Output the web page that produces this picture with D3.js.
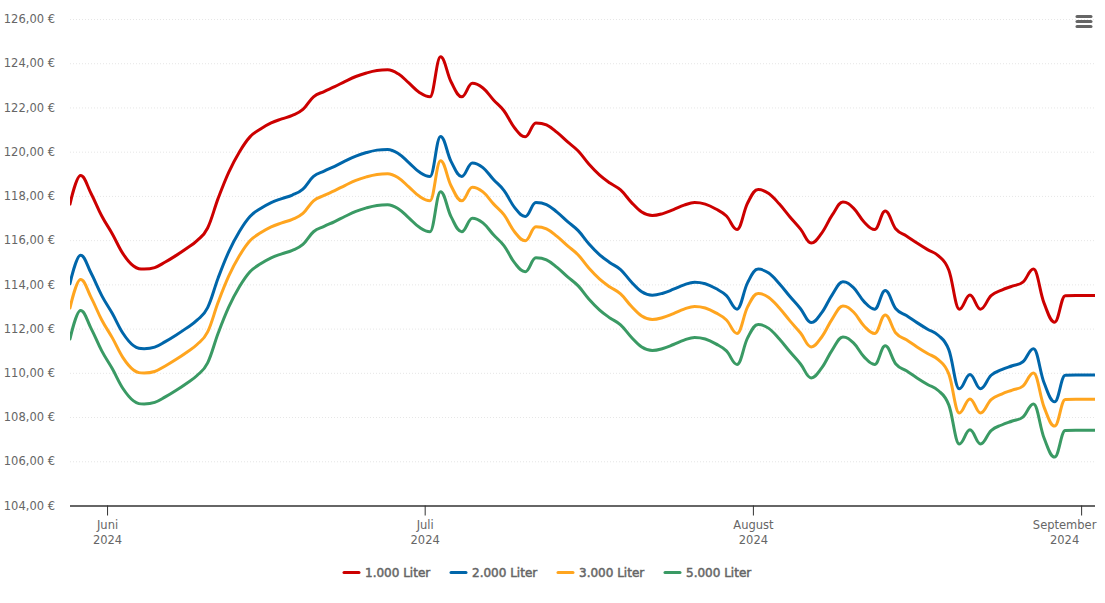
<!DOCTYPE html>
<html>
    <head>
        <meta charset="UTF-8">
        <title>Heizölpreise</title>
        <style>
            body { margin: 0; background: white; font-family: "DejaVu Sans", sans-serif; }
            svg { display: block; }
            .tick text { fill: #666666; font-size: 11.5px; font-family: "DejaVu Sans", sans-serif; }
            .y .tick line { stroke: #e6e6e6; stroke-dasharray: 1 2; }
            .x .tick line { stroke: #333333; }
            .x .domain { stroke: #333333; stroke-width: 1.5px; }
            .y .domain { display: none; }
            .line { fill: none; stroke-width: 3px; stroke-linejoin: round; stroke-linecap: round; }
            .legend text { fill: #666666; font-size: 12px; stroke: #666666; stroke-width: 0.5px; }
            .menu line { stroke: #666666; stroke-width: 3px; stroke-linecap: round; }
        </style>
        <script src="https://cdn.jsdelivr.net/npm/d3@7"></script>
    </head>
    <body>
        <div id="chart"></div>
        <script>
        var seriesNames = ["1.000 Liter", "2.000 Liter", "3.000 Liter", "5.000 Liter"];
        var seriesColors = ["#cc0000", "#0066aa", "#ffa51f", "#3a9a64"];

        var liter1000 = [117.63,118.92,118.10,117.09,116.28,115.39,114.83,114.69,114.76,115.01,115.30,115.62,115.98,116.55,117.90,119.08,119.99,120.67,121.03,121.30,121.48,121.64,121.91,122.48,122.72,122.94,123.18,123.40,123.56,123.67,123.70,123.52,123.11,122.68,122.48,124.29,123.15,122.48,123.09,122.88,122.34,121.84,121.07,120.67,121.30,121.21,120.87,120.44,120.03,119.44,118.95,118.58,118.27,117.72,117.27,117.11,117.20,117.38,117.58,117.70,117.63,117.41,117.09,116.48,117.68,118.29,118.11,117.63,117.05,116.50,115.87,116.32,117.14,117.72,117.45,116.82,116.48,117.32,116.50,116.19,115.87,115.57,115.30,114.65,112.88,113.52,112.88,113.49,113.74,113.92,114.10,114.69,113.15,112.29,113.49,113.50,113.50,113.50];
        var liter2000 = [114.03,115.32,114.50,113.49,112.68,111.79,111.23,111.09,111.16,111.41,111.70,112.02,112.38,112.95,114.30,115.48,116.39,117.07,117.43,117.70,117.88,118.04,118.31,118.88,119.12,119.34,119.58,119.80,119.96,120.07,120.10,119.92,119.51,119.08,118.88,120.69,119.55,118.88,119.49,119.28,118.74,118.24,117.47,117.07,117.70,117.61,117.27,116.84,116.43,115.84,115.35,114.98,114.67,114.12,113.67,113.51,113.60,113.78,113.98,114.10,114.03,113.81,113.49,112.88,114.08,114.69,114.51,114.03,113.45,112.90,112.27,112.72,113.54,114.12,113.85,113.22,112.88,113.72,112.90,112.59,112.27,111.97,111.70,111.05,109.28,109.92,109.28,109.89,110.14,110.32,110.50,111.09,109.55,108.69,109.89,109.90,109.90,109.90];
        var liter3000 = [112.93,114.22,113.40,112.39,111.58,110.69,110.13,109.99,110.06,110.31,110.60,110.92,111.28,111.85,113.20,114.38,115.29,115.97,116.33,116.60,116.78,116.94,117.21,117.78,118.02,118.24,118.48,118.70,118.86,118.97,119.00,118.82,118.41,117.98,117.78,119.59,118.45,117.78,118.39,118.18,117.64,117.14,116.37,115.97,116.60,116.51,116.17,115.74,115.33,114.74,114.25,113.88,113.57,113.02,112.57,112.41,112.50,112.68,112.88,113.00,112.93,112.71,112.39,111.78,112.98,113.59,113.41,112.93,112.35,111.80,111.17,111.62,112.44,113.02,112.75,112.12,111.78,112.62,111.80,111.49,111.17,110.87,110.60,109.95,108.18,108.82,108.18,108.79,109.04,109.22,109.40,109.99,108.45,107.59,108.79,108.80,108.80,108.80];
        var liter5000 = [111.53,112.82,112.00,110.99,110.18,109.29,108.73,108.59,108.66,108.91,109.20,109.52,109.88,110.45,111.80,112.98,113.89,114.57,114.93,115.20,115.38,115.54,115.81,116.38,116.62,116.84,117.08,117.30,117.46,117.57,117.60,117.42,117.01,116.58,116.38,118.19,117.05,116.38,116.99,116.78,116.24,115.74,114.97,114.57,115.20,115.11,114.77,114.34,113.93,113.34,112.85,112.48,112.17,111.62,111.17,111.01,111.10,111.28,111.48,111.60,111.53,111.31,110.99,110.38,111.58,112.19,112.01,111.53,110.95,110.40,109.77,110.22,111.04,111.62,111.35,110.72,110.38,111.22,110.40,110.09,109.77,109.47,109.20,108.55,106.78,107.42,106.78,107.39,107.64,107.82,108.00,108.59,107.05,106.19,107.39,107.40,107.40,107.40];

        var yTicks = [104,106,108,110,112,114,116,118,120,122,124,126];
        var monthTicks = [new Date(Date.UTC(2024,5,1)), new Date(Date.UTC(2024,6,1)), new Date(Date.UTC(2024,7,1)), new Date(Date.UTC(2024,8,1))];
        var monthLabels = ["Juni", "Juli", "August", "September"];

        // one value per day, stamped at noon
        var dates = d3.utcDay.range(new Date(Date.UTC(2024,4,28)), new Date(Date.UTC(2024,8,3)))
            .map(function(d){ return d3.utcHour.offset(d, 12); });

        var width = 1105, height = 603;
        var left = 70, right = 1095, top_ = 19, bottom = 505.5;

        // d3 curve factory: spline with handles at 0.4 of the gap, clamped so
        // they never pass the neighbouring points
        function clampedSpline(context) {
            var pts;
            return {
                areaStart: function(){}, areaEnd: function(){},
                lineStart: function(){ pts = []; },
                point: function(px, py){ pts.push([+px, +py]); },
                lineEnd: function(){
                    var prevRight = pts[0];
                    context.moveTo(pts[0][0], pts[0][1]);
                    for (var i = 1; i < pts.length; i++) {
                        var p = pts[i], last = pts[i-1], next = pts[i+1];
                        if (!next) { context.bezierCurveTo(prevRight[0], prevRight[1], p[0], p[1], p[0], p[1]); break; }
                        var lx = (1.5*p[0]+last[0])/2.5, ly = (1.5*p[1]+last[1])/2.5;
                        var rx = (1.5*p[0]+next[0])/2.5, ry = (1.5*p[1]+next[1])/2.5;
                        var corr = (ry-ly)*(rx-p[0])/(rx-lx) + p[1] - ry;
                        ly += corr; ry += corr;
                        if (ly > last[1] && ly > p[1]) { ly = Math.max(last[1], p[1]); ry = 2*p[1]-ly; }
                        else if (ly < last[1] && ly < p[1]) { ly = Math.min(last[1], p[1]); ry = 2*p[1]-ly; }
                        if (ry > next[1] && ry > p[1]) { ry = Math.max(next[1], p[1]); ly = 2*p[1]-ry; }
                        else if (ry < next[1] && ry < p[1]) { ry = Math.min(next[1], p[1]); ly = 2*p[1]-ry; }
                        context.bezierCurveTo(prevRight[0], prevRight[1], lx, ly, p[0], p[1]);
                        prevRight = [rx, ry];
                    }
                }
            };
        }

        var svg = d3.select("#chart").append("svg").attr("width", width).attr("height", height);

        var x = d3.scaleUtc().domain([dates[0], dates[dates.length-1]]).range([left, 1097]);
        var y = d3.scaleLinear().domain([104,126]).range([bottom, top_]);

        svg.append("clipPath").attr("id","plot").append("rect")
            .attr("x", left).attr("y", 0).attr("width", right-left).attr("height", height);

        // grid + y labels
        var yAxis = svg.append("g").attr("class","y").attr("transform","translate("+left+",0)")
            .call(d3.axisLeft(y).tickValues(yTicks).tickSize(-(right-left)).tickPadding(15)
                .tickFormat(function(d){ return d + ",00 €"; }));
        yAxis.selectAll(".tick").filter(function(d){ return d === 104; }).select("line").remove();

        // x axis, labels get a second line for the year
        var xAxis = svg.append("g").attr("class","x").attr("transform","translate(0,"+bottom+")")
            .call(d3.axisBottom(x).tickValues(monthTicks).tickSize(10).tickSizeOuter(0).tickPadding(5)
                .tickFormat(function(d,i){ return monthLabels[i]; }));
        xAxis.select(".domain").attr("d","M"+left+",0.5H"+right);
        xAxis.selectAll(".tick text").each(function(d,i){
            var t = d3.select(this), label = t.text(), yy = t.attr("y");
            // the last label is pulled in so it stays inside the plot width
            var shift = i === monthLabels.length-1 ? -17 : 0;
            t.text(null);
            t.append("tspan").attr("x",shift).attr("y",yy).attr("dy","0.71em").text(label);
            t.append("tspan").attr("x",shift).attr("y",yy).attr("dy","2.0em").text("2024");
        });

        var line = d3.line()
            .x(function(d,i){ return x(dates[i]); })
            .y(function(d){ return y(d); })
            .curve(clampedSpline);

        var plot = svg.append("g").attr("clip-path","url(#plot)");
        [liter1000, liter2000, liter3000, liter5000].forEach(function(values, i){
            plot.append("path").attr("class","line").attr("stroke", seriesColors[i]).attr("d", line(values));
        });

        // legend
        var legendX = [344, 451, 558, 665];
        var legend = svg.append("g").attr("class","legend");
        seriesNames.forEach(function(name, i){
            legend.append("line").attr("x1",legendX[i]).attr("x2",legendX[i]+15).attr("y1",572.5).attr("y2",572.5)
                .attr("stroke",seriesColors[i]).attr("stroke-width",3).attr("stroke-linecap","round");
            legend.append("text").attr("x",legendX[i]+21).attr("y",577).text(name);
        });

        // burger menu top right
        var menu = svg.append("g").attr("class","menu");
        [16.5,21.5,26.5].forEach(function(yy){
            menu.append("line").attr("x1",1077).attr("x2",1091).attr("y1",yy).attr("y2",yy);
        });
        </script>
    </body>
</html>
